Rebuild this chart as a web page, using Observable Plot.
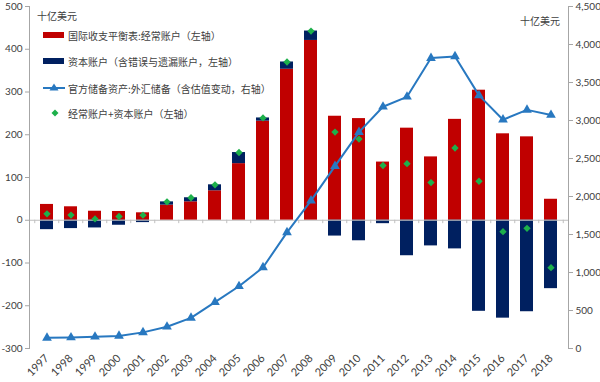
<!DOCTYPE html>
<html>
<head>
<meta charset="utf-8">
<script src="https://cdn.jsdelivr.net/npm/d3@7"></script>
<script src="https://cdn.jsdelivr.net/npm/@observablehq/plot@0.6"></script>
<style>
  body { margin: 0; background: #fff; }
  #wrap { position: relative; width: 600px; height: 382px; }
  #wrap > svg { display: block; }
  #legend { position: absolute; left: 0; top: 0; pointer-events: none; }
  #legend text { font-family: "Noto Sans CJK SC", sans-serif; font-size: 10px; fill: #404040; dominant-baseline: central; }
</style>
</head>
<body>
<div id="wrap"></div>
<script>
const years = ["1997","1998","1999","2000","2001","2002","2003","2004","2005","2006","2007","2008","2009","2010","2011","2012","2013","2014","2015","2016","2017","2018"];
// 十亿美元, left axis
const currentAccount = [37.0, 31.5, 21.1, 20.5, 17.4, 35.4, 43.1, 68.9, 132.4, 231.8, 353.2, 420.6, 243.3, 237.8, 136.1, 215.4, 148.2, 236.0, 304.2, 202.2, 195.1, 49.1];
const capitalAccount = [-22, -19.5, -18, -11.7, -5.5, 7.6, 9.5, 14, 26, 7.5, 17, 22, -37, -48, -8, -83, -60, -67, -213, -229, -214, -160];
// 十亿美元, right axis
const reserves = [139.9, 145.0, 154.7, 165.6, 212.2, 286.4, 403.3, 609.9, 818.9, 1066.3, 1528.2, 1946.0, 2399.2, 2847.3, 3181.1, 3311.6, 3821.3, 3843.0, 3330.4, 3010.5, 3139.9, 3072.7];
const leftTicks = [-300, -200, -100, 0, 100, 200, 300, 400, 500];
const rightTicks = [0, 500, 1000, 1500, 2000, 2500, 3000, 3500, 4000, 4500];
const legendLabels = ["国际收支平衡表:经常账户（左轴）", "资本账户（含错误与遗漏账户，左轴）", "官方储备资产:外汇储备（含估值变动，右轴）", "经常账户+资本账户（左轴）"];
const unitLabel = "十亿美元";

const leftDomain = [-300, 500];
const rightDomain = [0, 4500];
const toLeft = v => leftDomain[0] + (v - rightDomain[0]) * (leftDomain[1] - leftDomain[0]) / (rightDomain[1] - rightDomain[0]);
const fromLeft = v => rightDomain[0] + (v - leftDomain[0]) * (rightDomain[1] - rightDomain[0]) / (leftDomain[1] - leftDomain[0]);

const rows = years.map((y, i) => ({
  year: y,
  ca: currentAccount[i],
  ka: capitalAccount[i],
  kaY1: capitalAccount[i] >= 0 ? currentAccount[i] : 0,
  kaY2: capitalAccount[i] >= 0 ? currentAccount[i] + capitalAccount[i] : capitalAccount[i],
  sum: currentAccount[i] + capitalAccount[i],
  res: toLeft(reserves[i])
}));

const RED = "#C00000", NAVY = "#002060", BLUE = "#2878C0", GREEN = "#1DB04B", GREY = "#A6A6A6";
const W = 600, H = 382, ML = 29, MR = 32;
const step = (W - ML - MR) / years.length;

const chart = Plot.plot({
  width: W, height: H,
  marginLeft: ML, marginRight: MR, marginTop: 6, marginBottom: 34,
  style: { fontFamily: "Lato, 'Noto Sans CJK SC', sans-serif", fontSize: "10px", color: "#404040", background: "#fff" },
  x: { type: "band", domain: years, paddingInner: 0.45, paddingOuter: 0.225, axis: null, label: null },
  y: { domain: leftDomain, axis: null, label: null },
  marks: [
    Plot.barY(rows, { x: "year", y1: 0, y2: "ca", fill: RED }),
    Plot.barY(rows, { x: "year", y1: "kaY1", y2: "kaY2", fill: NAVY }),
    Plot.ruleY([0], { stroke: "#BFBFBF", strokeWidth: 1 }),
    Plot.ruleX(years, { x: d => d, dx: -step / 2, y1: 0, y2: -8, stroke: "#BFBFBF" }),
    Plot.ruleX([years[years.length - 1]], { x: d => d, dx: step / 2, y1: 0, y2: -8, stroke: "#BFBFBF" }),
    Plot.frame({ anchor: "left", stroke: GREY }),
    Plot.frame({ anchor: "right", stroke: GREY }),
    Plot.axisY({ anchor: "left", label: null, ticks: leftTicks, tickSize: 4, tickPadding: 3, stroke: GREY, tickFormat: d => String(d), fill: "#404040" }),
    Plot.axisY({ anchor: "right", label: null, ticks: rightTicks.map(toLeft), tickSize: 4, tickPadding: 3, stroke: GREY,
                 tickFormat: v => d3.format(",")(Math.round(fromLeft(v))), fill: "#404040" }),
    Plot.axisX({ anchor: "bottom", label: null, tickSize: 0, tickPadding: 8, tickRotate: -45, fill: "#404040", fontSize: 11 }),
    Plot.line(rows, { x: "year", y: "res", stroke: BLUE, strokeWidth: 2 }),
    Plot.dot(rows, { x: "year", y: "res", symbol: "triangle", r: 3.6, fill: BLUE, stroke: "none" }),
    Plot.dot(rows, { x: "year", y: "sum", symbol: "diamond2", r: 3.3, fill: GREEN, stroke: "none" })
  ]
});

const wrap = document.getElementById("wrap");
wrap.appendChild(chart);

const lg = d3.select(wrap).append("svg").attr("id", "legend").attr("width", W).attr("height", 130);
lg.append("text").attr("x", 37).attr("y", 15).text(unitLabel);
lg.append("text").attr("x", 520).attr("y", 20).text(unitLabel);

const rowsY = [35, 61, 88, 113];
lg.append("rect").attr("x", 43).attr("y", rowsY[0] - 3).attr("width", 21).attr("height", 6).attr("fill", RED);
lg.append("rect").attr("x", 43).attr("y", rowsY[1] - 3).attr("width", 21).attr("height", 6).attr("fill", NAVY);
lg.append("line").attr("x1", 43).attr("x2", 65).attr("y1", rowsY[2]).attr("y2", rowsY[2]).attr("stroke", BLUE).attr("stroke-width", 2);
lg.append("path").attr("d", `M54,${rowsY[2] - 4.5} L58.5,${rowsY[2] + 2.5} L49.5,${rowsY[2] + 2.5} Z`).attr("fill", BLUE);
lg.append("path").attr("d", `M55,${rowsY[3] - 3.5} L58.5,${rowsY[3]} L55,${rowsY[3] + 3.5} L51.5,${rowsY[3]} Z`).attr("fill", GREEN);
legendLabels.forEach((t, i) => lg.append("text").attr("x", 68).attr("y", rowsY[i]).text(t));
</script>
</body>
</html>
